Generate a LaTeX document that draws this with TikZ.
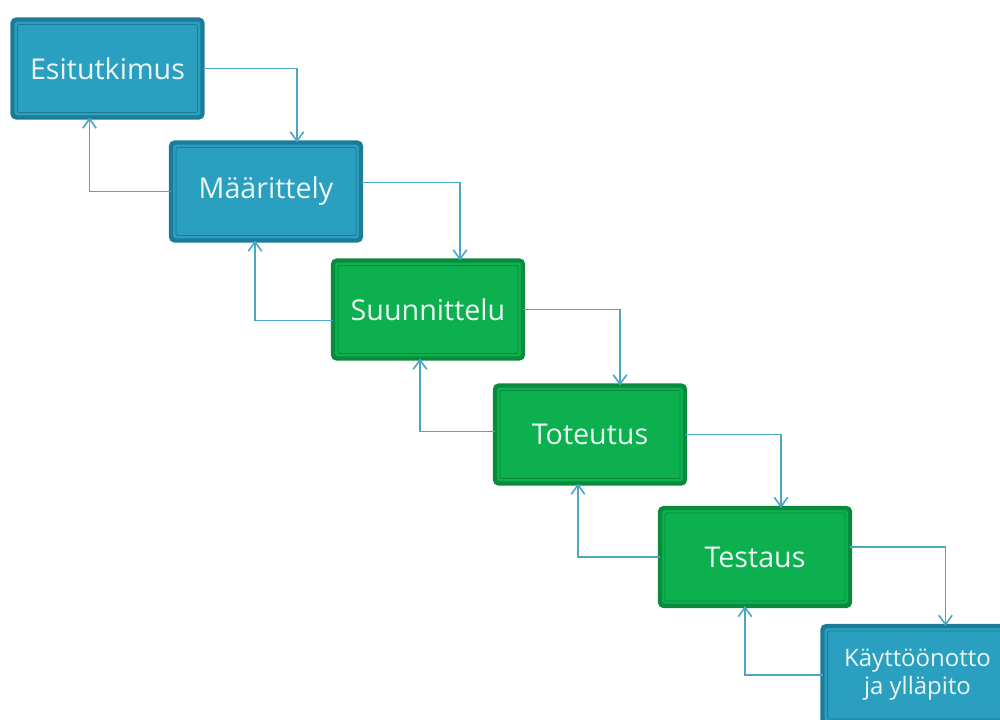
\documentclass[tikz,border=0pt]{standalone}
\usepackage{fontspec}
\setmainfont{Open Sans}
\usetikzlibrary{arrows.meta,calc}
\definecolor{bluefill}{HTML}{2B9FC0}
\definecolor{bluerim}{HTML}{1C7C98}
\definecolor{greenfill}{HTML}{0DB04F}
\definecolor{greenrim}{HTML}{0A8A3C}
\definecolor{arrowcol}{HTML}{4AA6C6}
\definecolor{txt}{HTML}{EAF6F2}
\begin{document}
\begin{tikzpicture}[x=0.75pt,y=-0.75pt,
  stagebox/.style={line width=3.3pt, rounded corners=3pt, minimum width=142.5pt,
    minimum height=73.5pt, outer sep=0pt, inner sep=0pt, text=txt, align=center,
    font=\fontsize{21.5}{25}\selectfont},
  bluebox/.style={stagebox, draw=bluerim, fill=bluefill},
  greenbox/.style={stagebox, draw=greenrim, fill=greenfill},
  arr/.style={draw=arrowcol, line width=1.2pt, -{Straight Barb[length=7pt,width=10pt]}}]
\useasboundingbox (0,0) rectangle (1000,719);
\clip (0,0) rectangle (1000,719);
\node[bluebox]  (e1) at (107.5,68.5) {Esitutkimus};
\node[bluebox]  (e2) at (266,191.5) {Määrittely};
\node[greenbox] (e3) at (428,309.5) {Suunnittelu};
\node[greenbox] (e4) at (590,434.5) {Toteutus};
\node[greenbox] (e5) at (755,557) {Testaus};
\node[bluebox, font=\fontsize{18}{21}\selectfont] (e6) at (917.5,675) {Käyttöönotto\\ja ylläpito};
\foreach \n/\c in {e1/bluerim,e2/bluerim,e3/greenrim,e4/greenrim,e5/greenrim,e6/bluerim}
  \draw[\c, line width=0.7pt, rounded corners=1.5pt] ($(\n.north west)+(5,5)$) rectangle ($(\n.south east)+(-5,-5)$);
% forward
\draw[arr] (e1.east) -| ($(e2.north west)+(126,0)$);
\draw[arr] ($(e2.east)+(0,-9)$) -| ($(e3.north west)+(127,0)$);
\draw[arr] (e3.east) -| ($(e4.north west)+(125,0)$);
\draw[arr] (e4.east) -| ($(e5.north west)+(121,0)$);
\draw[arr] ($(e5.east)+(0,-10)$) -| ($(e6.north west)+(123,0)$);
% backward
\draw[arr] (e2.west) -| ($(e1.south west)+(77,0)$);
\draw[arr] ($(e3.west)+(0,11)$) -| ($(e2.south west)+(84,0)$);
\draw[arr] ($(e4.west)+(0,-3)$) -| ($(e3.south west)+(87,0)$);
\draw[arr] (e5.west) -| ($(e4.south west)+(83,0)$);
\draw[arr] (e6.west) -| ($(e5.south west)+(85,0)$);
\end{tikzpicture}
\end{document}
